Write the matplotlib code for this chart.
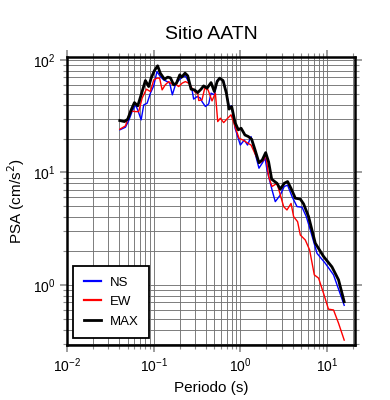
import matplotlib
matplotlib.use('Agg')
from matplotlib import pyplot as plt

plt.rcParams['font.family'] = ['Liberation Sans', 'DejaVu Sans']

# periods (s) and PSA (cm/s2)
t_ns = [0.0406, 0.0472, 0.0515, 0.0563, 0.0615, 0.0654, 0.0716, 0.0767, 0.0839, 0.0916,
        0.100, 0.109, 0.119, 0.130, 0.143, 0.153, 0.164, 0.178, 0.194, 0.213,
        0.232, 0.253, 0.277, 0.289, 0.317, 0.346, 0.361, 0.395, 0.431, 0.459,
        0.501, 0.539, 0.577, 0.642, 0.690, 0.741, 0.794, 0.869, 1.00, 1.11,
        1.21, 1.33, 1.48, 1.64, 1.79, 1.93, 2.03, 2.32, 2.53, 2.89,
        3.21, 3.51, 3.95, 4.51, 5.15, 5.77, 6.42, 7.67, 9.55, 11.9, 15.8]
psa_ns = [23.9, 25.2, 28.9, 34.7, 39.8, 35.9, 29.3, 39.8, 41.2, 50.6,
          58.7, 78.7, 71.1, 66.4, 64.1, 62.1, 48.9, 60.0, 65.5, 70.2,
          72.1, 64.1, 54.1, 44.8, 47.2, 45.7, 42.6, 38.5, 40.6, 50.6,
          48.9, 65.5, 68.8, 64.1, 50.6, 38.5, 39.0, 24.7, 17.5, 19.4,
          17.5, 20.8, 14.8, 10.9, 12.1, 13.4, 10.5, 7.0, 5.5, 6.3,
          7.5, 7.7, 6.1, 4.97, 4.91, 4.05, 3.08, 1.91, 1.56, 1.23, 0.66]

t_ew = [0.0406, 0.0472, 0.0538, 0.0615, 0.0671, 0.0735, 0.0824, 0.0916, 0.100, 0.109,
        0.117, 0.125, 0.136, 0.149, 0.163, 0.178, 0.194, 0.213, 0.232, 0.253,
        0.277, 0.303, 0.322, 0.331, 0.361, 0.388, 0.424, 0.471, 0.515, 0.548,
        0.588, 0.642, 0.714, 0.781, 0.869, 0.966, 1.07, 1.19, 1.33, 1.48,
        1.67, 1.86, 1.96, 2.12, 2.32, 2.65, 3.16, 3.45, 3.85, 4.12,
        4.58, 4.92, 5.62, 6.30, 7.14, 8.00, 9.14, 10.4, 11.9, 13.6, 15.8]
psa_ew = [24.2, 25.9, 35.2, 34.7, 34.7, 45.7, 54.9, 52.3, 66.4, 68.8,
          68.8, 54.1, 60.0, 64.1, 60.8, 61.2, 57.9, 62.1, 64.1, 62.1,
          56.0, 51.2, 50.6, 43.5, 44.1, 56.0, 54.1, 43.2, 50.6, 28.3,
          30.3, 27.7, 30.3, 32.5, 25.5, 20.1, 19.4, 18.4, 17.5, 14.6,
          12.1, 12.9, 14.6, 9.2, 7.5, 8.0, 4.97, 4.64, 5.3, 4.05,
          3.65, 2.78, 2.51, 2.05, 1.23, 1.15, 0.84, 0.61, 0.60, 0.457, 0.324]

t_max = [0.0406, 0.0459, 0.0501, 0.0549, 0.0599, 0.0654, 0.0716, 0.0802, 0.0875, 0.0933,
         0.102, 0.111, 0.119, 0.133, 0.145, 0.156, 0.170, 0.183, 0.200, 0.210,
         0.230, 0.247, 0.270, 0.295, 0.322, 0.352, 0.377, 0.413, 0.459, 0.501,
         0.539, 0.577, 0.631, 0.690, 0.741, 0.794, 0.869, 0.948, 1.02, 1.13,
         1.24, 1.35, 1.48, 1.64, 1.79, 1.96, 2.12, 2.30, 2.65, 2.89,
         3.21, 3.51, 3.85, 4.31, 4.92, 5.37, 6.13, 7.33, 9.14, 11.4, 13.6, 15.8]
psa_max = [28.9, 28.3, 29.7, 35.9, 41.7, 39.0, 48.9, 65.5, 57.9, 68.8,
           80.4, 88.5, 76.2, 67.3, 70.2, 69.2, 60.0, 62.1, 73.6, 70.2,
           76.2, 72.1, 54.9, 54.1, 51.2, 54.9, 58.7, 56.0, 62.8, 52.3,
           64.1, 68.8, 65.5, 50.6, 36.5, 38.5, 27.7, 23.9, 24.7, 21.5,
           20.8, 19.7, 15.8, 12.2, 12.9, 15.0, 12.4, 8.7, 8.0, 7.1,
           8.0, 8.3, 7.2, 5.9, 5.8, 5.25, 4.05, 2.35, 1.79, 1.45, 1.11, 0.71]

fig = plt.figure(figsize=(3.9, 4.0), dpi=100)
ax = fig.add_axes([0.172, 0.1375, 0.738, 0.72])

ax.plot(t_ns, psa_ns, color='#0000ff', lw=1.0, label='NS')
ax.plot(t_ew, psa_ew, color='#ff0000', lw=1.0, label='EW')
ax.plot(t_max, psa_max, color='black', lw=2.0, label='MAX')

ax.set_xscale('log')
ax.set_yscale('log')
ax.set_xlim(0.01, 21)
ax.set_ylim(0.293, 106)

ax.grid(True, which='both', color='0.45', lw=0.65)
ax.set_axisbelow(True)
for s in ax.spines.values():
    s.set_linewidth(1.8)
ax.tick_params(which='both', direction='out', color='0.55', top=True, right=True,
               labelsize=10)
ax.tick_params(which='major', length=5, width=1.2)
ax.tick_params(which='minor', length=3, width=0.8)

ax.set_title('Sitio AATN', fontsize=14, pad=13)
ax.set_xlabel('Periodo (s)', fontsize=11)
ax.set_ylabel('PSA (cm/s$^2$)', fontsize=11)

leg = ax.legend(loc='lower left', fancybox=False, edgecolor='black', fontsize=9.5,
                handlelength=1.3, handletextpad=0.7, borderpad=0.8, labelspacing=0.55,
                borderaxespad=0, bbox_to_anchor=(0.021, 0.024))
leg.get_frame().set_linewidth(1.3)
leg.get_frame().set_alpha(1)
for h in leg.legend_handles[:2]:
    h.set_linewidth(1.6)

plt.savefig('out.png', dpi=100)
